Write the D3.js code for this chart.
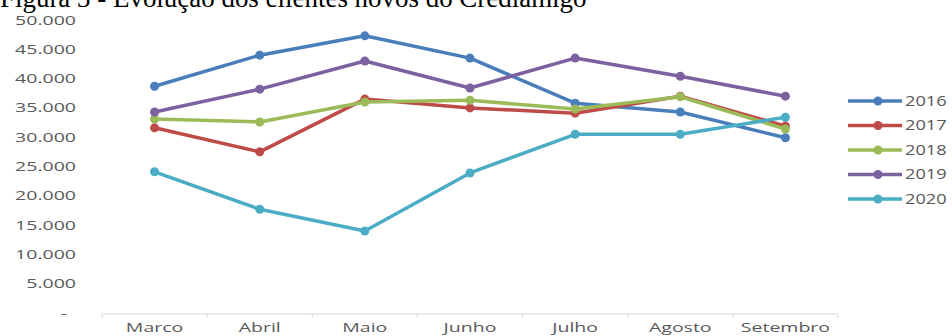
<!DOCTYPE html>
<html>
<head>
<meta charset="utf-8">
<script src="https://cdnjs.cloudflare.com/ajax/libs/d3/7.8.5/d3.min.js"></script>
<style>
  body { margin: 0; background: #fff; }
  svg { display: block; }
  .tick-label { font-family: "Open Sans", sans-serif; fill: #595959; }
</style>
</head>
<body>
<svg id="chart" width="952" height="336"></svg>
<script>
// data
const months = ["Marco", "Abril", "Maio", "Junho", "Julho", "Agosto", "Setembro"];
const years = ["2016", "2017", "2018", "2019", "2020"];
const s2016 = [38700, 44000, 47300, 43500, 35800, 34300, 29900];
const s2017 = [31600, 27500, 36500, 35000, 34100, 37000, 31900];
const s2018 = [33100, 32600, 36000, 36300, 34800, 36900, 31400];
const s2019 = [34300, 38200, 43000, 38400, 43500, 40400, 37000];
const s2020 = [24100, 17700, 14000, 23900, 30500, 30500, 33400];
const yTicks = [0, 5000, 10000, 15000, 20000, 25000, 30000, 35000, 40000, 45000, 50000];
const colors = ["#4a7ebb", "#be4b48", "#9bbb59", "#7d60a0", "#4bacc6"];

const series = [s2016, s2017, s2018, s2019, s2020].map((values, i) => ({
  name: years[i], values, color: colors[i]
}));

const svg = d3.select("#chart");

// labels in the picture are wider than a normal font, stretch them
function widen(sel, k) {
  sel.each(function () {
    const w = this.getComputedTextLength();
    d3.select(this).attr("textLength", w * k).attr("lengthAdjust", "spacingAndGlyphs");
  });
}

// title, partly cut off at the top like the scan
const title = svg.append("text")
  .attr("x", 0).attr("y", 7)
  .style("font-family", "'Liberation Serif', 'Times New Roman', serif")
  .style("font-size", "24px")
  .attr("fill", "#000")
  .text("Figura 3 - Evolução dos clientes novos do Crediamigo");
const tw = title.node().getComputedTextLength();
title.style("font-size", (24 * 587 / tw) + "px");

const x = d3.scaleBand().domain(months).range([102, 838]);
const y = d3.scaleLinear().domain([0, 50000]).range([313, 20]);
const cx = d => x(d) + x.bandwidth() / 2;

// x axis
const xAxis = svg.append("g")
  .attr("transform", "translate(0,314)");
xAxis.append("line")
  .attr("x1", x.range()[0]).attr("x2", x.range()[1])
  .attr("stroke", "#d9d9d9").attr("stroke-width", 1);
xAxis.selectAll(".xt")
  .data(months.concat(["end"]))
  .enter().append("line")
  .attr("x1", (d, i) => i < months.length ? x(d) : x.range()[1])
  .attr("x2", (d, i) => i < months.length ? x(d) : x.range()[1])
  .attr("y1", 0).attr("y2", 4)
  .attr("stroke", "#d9d9d9");
xAxis.selectAll(".xl")
  .data(months)
  .enter().append("text")
  .attr("class", "tick-label")
  .attr("x", d => cx(d))
  .attr("y", 18)
  .attr("text-anchor", "middle")
  .style("font-size", "13px")
  .text(d => d)
  .call(widen, 1.5);

// y axis labels (no axis line in the picture)
svg.append("g").selectAll("text")
  .data(yTicks)
  .enter().append("text")
  .attr("class", "tick-label")
  .attr("x", d => d === 0 ? 67 : 76)
  .attr("y", d => y(d))
  .attr("dy", "0.35em")
  .attr("text-anchor", "end")
  .style("font-size", "13px")
  .text(d => d === 0 ? "-" : d3.format(",")(d).replace(/,/g, "."))
  .call(widen, 1.5);

// lines and markers
const line = d3.line()
  .x((d, i) => cx(months[i]))
  .y(d => y(d));

const g = svg.append("g");
series.forEach(s => {
  g.append("path")
    .datum(s.values)
    .attr("d", line)
    .attr("fill", "none")
    .attr("stroke", s.color)
    .attr("stroke-width", 3.5)
    .attr("stroke-linejoin", "round")
    .attr("stroke-linecap", "round");
  g.selectAll(null)
    .data(s.values)
    .enter().append("circle")
    .attr("cx", (d, i) => cx(months[i]))
    .attr("cy", d => y(d))
    .attr("r", 4.5)
    .attr("fill", s.color);
});

// legend
const legend = svg.append("g").selectAll("g")
  .data(series)
  .enter().append("g")
  .attr("transform", (d, i) => `translate(848,${101 + i * 24.5})`);
legend.append("line")
  .attr("x1", 0).attr("x2", 54)
  .attr("stroke", d => d.color).attr("stroke-width", 3.5);
legend.append("circle")
  .attr("cx", 30).attr("r", 4.5)
  .attr("fill", d => d.color);
legend.append("text")
  .attr("class", "tick-label")
  .attr("x", 57).attr("dy", "0.35em")
  .style("font-size", "14px")
  .text(d => d.name)
  .call(widen, 1.3);
</script>
</body>
</html>
